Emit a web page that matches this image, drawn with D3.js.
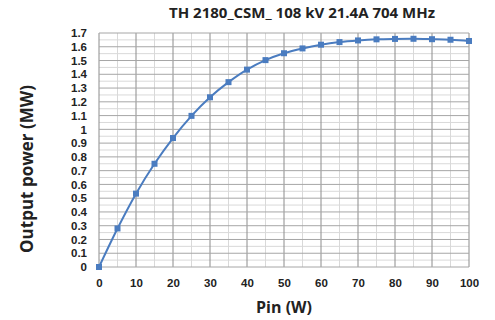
<!DOCTYPE html>
<html>
<head>
<meta charset="utf-8">
<script src="https://cdn.jsdelivr.net/npm/d3@7"></script>
<style>
  body { margin: 0; background: #fff; }
  text { font-family: "Open Sans", "Liberation Sans", sans-serif; font-weight: bold; fill: #222; }
</style>
</head>
<body>
<svg width="495" height="320"></svg>
<script>
// values
const pin = [0, 5, 10, 15, 20, 25, 30, 35, 40, 45, 50, 55, 60, 65, 70, 75, 80, 85, 90, 95, 100];
const power = [0, 0.28, 0.533, 0.75, 0.937, 1.098, 1.233, 1.343, 1.434, 1.503, 1.553, 1.588, 1.615, 1.634, 1.646, 1.654, 1.657, 1.658, 1.655, 1.651, 1.642];
const xTicks = [0, 10, 20, 30, 40, 50, 60, 70, 80, 90, 100];
const yTicks = d3.range(0, 18).map(i => +(i / 10).toFixed(1));

const svg = d3.select('svg');
const margin = {top: 33, right: 26, bottom: 53, left: 99};
const width = +svg.attr('width');
const height = +svg.attr('height');
const innerWidth = width - margin.left - margin.right;
const innerHeight = height - margin.top - margin.bottom;

const xScale = d3.scaleLinear().domain([0, 100]).range([0, innerWidth]);
const yScale = d3.scaleLinear().domain([0, 1.7]).range([innerHeight, 0]);

const g = svg.append('g').attr('transform', `translate(${margin.left}, ${margin.top})`);

// minor grid (every 5 W and every 0.05 MW)
g.append('g').selectAll('line')
  .data(d3.range(5, 100, 10))
  .enter().append('line')
    .attr('x1', d => xScale(d)).attr('x2', d => xScale(d))
    .attr('y1', 0).attr('y2', innerHeight)
    .attr('stroke', '#d9d9d9').attr('stroke-width', 1);
g.append('g').selectAll('line')
  .data(d3.range(0.05, 1.7, 0.1))
  .enter().append('line')
    .attr('y1', d => yScale(d)).attr('y2', d => yScale(d))
    .attr('x1', 0).attr('x2', innerWidth)
    .attr('stroke', '#d9d9d9').attr('stroke-width', 1);

// major grid
g.append('g').selectAll('line')
  .data(xTicks)
  .enter().append('line')
    .attr('x1', d => xScale(d)).attr('x2', d => xScale(d))
    .attr('y1', 0).attr('y2', innerHeight)
    .attr('stroke', '#8c8c8c').attr('stroke-width', 1);
g.append('g').selectAll('line')
  .data(yTicks)
  .enter().append('line')
    .attr('y1', d => yScale(d)).attr('y2', d => yScale(d))
    .attr('x1', 0).attr('x2', innerWidth)
    .attr('stroke', '#a6a6a6').attr('stroke-width', 1);

// axes: labels only
g.append('g')
  .attr('transform', `translate(0, ${innerHeight})`)
  .call(d3.axisBottom(xScale).tickValues(xTicks).tickSize(0).tickPadding(12));
g.append('g')
  .call(d3.axisLeft(yScale).tickValues(yTicks).tickSize(0).tickPadding(12).tickFormat(d => d3.format('')(d)));
svg.selectAll('.domain').remove();
svg.selectAll('.tick text')
  .style('font-family', '"Liberation Sans", sans-serif')
  .style('font-weight', 'bold')
  .style('font-size', '11.5px')
  .attr('fill', '#222');

// the curve
const line = d3.line()
  .x((d, i) => xScale(pin[i]))
  .y(d => yScale(d))
  .curve(d3.curveCatmullRom);
g.append('path')
  .datum(power)
  .attr('fill', 'none')
  .attr('stroke', '#4a7cc0')
  .attr('stroke-width', 2)
  .attr('d', line);
g.selectAll('.marker')
  .data(power)
  .enter().append('rect')
    .attr('class', 'marker')
    .attr('x', (d, i) => xScale(pin[i]) - 3)
    .attr('y', d => yScale(d) - 3)
    .attr('width', 6).attr('height', 6)
    .attr('fill', '#4a7cc0');

// titles
svg.append('text')
  .attr('x', 302).attr('y', 18)
  .attr('text-anchor', 'middle')
  .style('font-size', '15px')
  .text('TH 2180_CSM_ 108 kV 21.4A 704 MHz');
svg.append('text')
  .attr('x', 284).attr('y', 313)
  .attr('text-anchor', 'middle')
  .style('font-size', '16px')
  .text('Pin (W)');
svg.append('text')
  .attr('transform', 'translate(33, 169) rotate(-90)')
  .attr('text-anchor', 'middle')
  .style('font-size', '17px')
  .text('Output power (MW)');
</script>
</body>
</html>
